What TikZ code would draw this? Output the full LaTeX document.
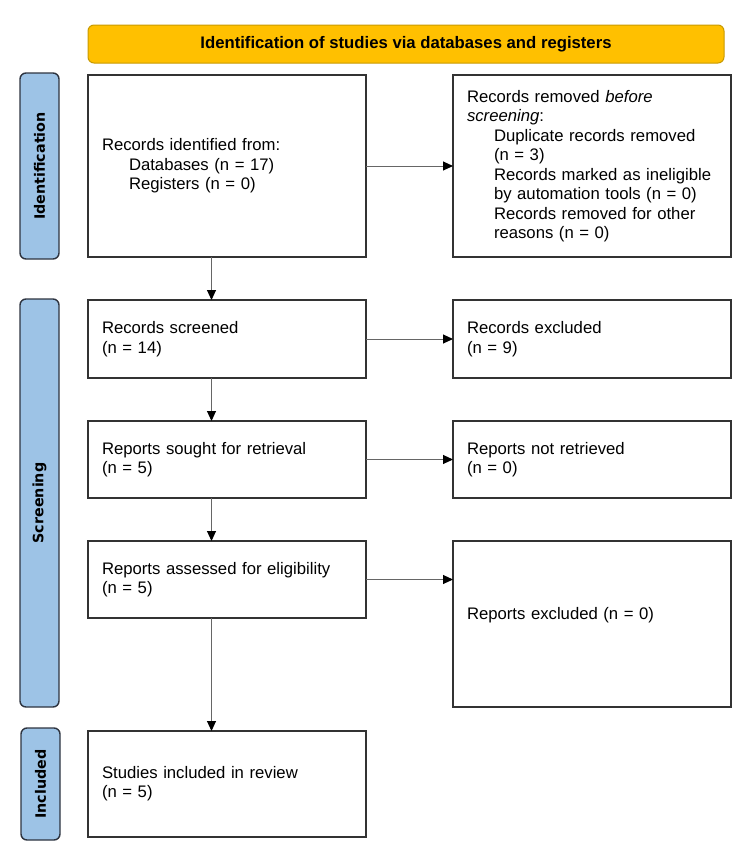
\documentclass[tikz,border=0pt]{standalone}
\usepackage{fontspec}
\setmainfont{Liberation Sans}
\newfontfamily\phasefont{DejaVu Sans}
\usepackage{tikz}
\usetikzlibrary{positioning,arrows.meta}

\definecolor{headgold}{HTML}{FFC000}
\definecolor{headedge}{HTML}{C89A00}
\definecolor{phaseblue}{HTML}{9DC3E6}
\definecolor{phaseedge}{HTML}{2E3440}

\tikzset{
  prisma/.style={draw=black!80, line width=1.4pt, fill=white, minimum width=278pt,
    text width=250pt, inner xsep=14pt, outer sep=0pt, align=left,
    font=\fontsize{16.7}{19.5}\selectfont},
  headbox/.style={draw=headedge, line width=1pt, fill=headgold, rounded corners=6pt,
    minimum width=636pt, minimum height=38pt, outer sep=0pt,
    font=\bfseries\fontsize{16.7}{19.5}\selectfont},
  phase/.style={draw=phaseedge, line width=1.4pt, fill=phaseblue, rounded corners=6pt,
    rotate=90, minimum height=39pt, inner sep=0pt,
    font=\phasefont\bfseries\fontsize{14.3}{16}\selectfont},
  flow/.style={draw=black!60, line width=1pt,
    -{Triangle[length=10pt,width=9pt,color=black]}}
}

\begin{document}
\begin{tikzpicture}[x=1pt, y=1pt]
  \useasboundingbox (0,0) rectangle (750,-862);

  \node[headbox] (head) at (406,-44) {Identification of studies via databases and registers};

  % identification
  \node[prisma, minimum height=182pt, below=12pt of head.south west, anchor=north west] (ident)
    {Records identified from:\\
     \hspace*{27pt}Databases (n = 17)\\
     \hspace*{27pt}Registers (n = 0)};
  \node[prisma, minimum height=182pt, right=87pt of ident] (removed)
    {Records removed \textit{before}\\
     \textit{screening}:\\
     \hspace*{27pt}Duplicate records removed\\
     \hspace*{27pt}(n = 3)\\
     \hspace*{27pt}Records marked as ineligible\\
     \hspace*{27pt}by automation tools (n = 0)\\
     \hspace*{27pt}Records removed for other\\
     \hspace*{27pt}reasons (n = 0)};

  % screening
  \node[prisma, minimum height=78pt, below=43pt of ident.south west, anchor=north west] (screened)
    {Records screened\\(n = 14)};
  \node[prisma, minimum height=78pt, right=87pt of screened] (excluded)
    {Records excluded\\(n = 9)};
  \node[prisma, minimum height=77pt, below=43pt of screened.south west, anchor=north west] (sought)
    {Reports sought for retrieval\\(n = 5)};
  \node[prisma, minimum height=77pt, right=87pt of sought] (notret)
    {Reports not retrieved\\(n = 0)};
  \node[prisma, minimum height=77pt, below=43pt of sought.south west, anchor=north west] (assessed)
    {Reports assessed for eligibility\\(n = 5)};
  \node[prisma, minimum height=166pt, text depth=22pt, right=87pt of assessed.north east, anchor=north west] (rexcl)
    {Reports excluded (n = 0)};

  % included
  \node[prisma, minimum height=106pt, text depth=24pt, below=113pt of assessed.south west, anchor=north west] (included)
    {Studies included in review\\(n = 5)};

  % phase bars
  \node[phase, minimum width=186pt] (idbar) at (39.5,-166) {Identification};
  \node[phase, minimum width=408pt] (scrbar) at (39.5,-503) {Screening};
  \node[phase, minimum width=112pt] (incbar) at (40.5,-784) {Included};

  \coordinate (spine) at (211.5,0);

  \draw[flow] (ident) -- (removed);
  \draw[flow] (screened) -- (excluded);
  \draw[flow] (sought) -- (notret);
  \draw[flow] (assessed.east) -- (assessed.east -| rexcl.west);

  \draw[flow] (ident.south -| spine) -- (screened.north -| spine);
  \draw[flow] (screened.south -| spine) -- (sought.north -| spine);
  \draw[flow] (sought.south -| spine) -- (assessed.north -| spine);
  \draw[flow] (assessed.south -| spine) -- (included.north -| spine);
\end{tikzpicture}
\end{document}
